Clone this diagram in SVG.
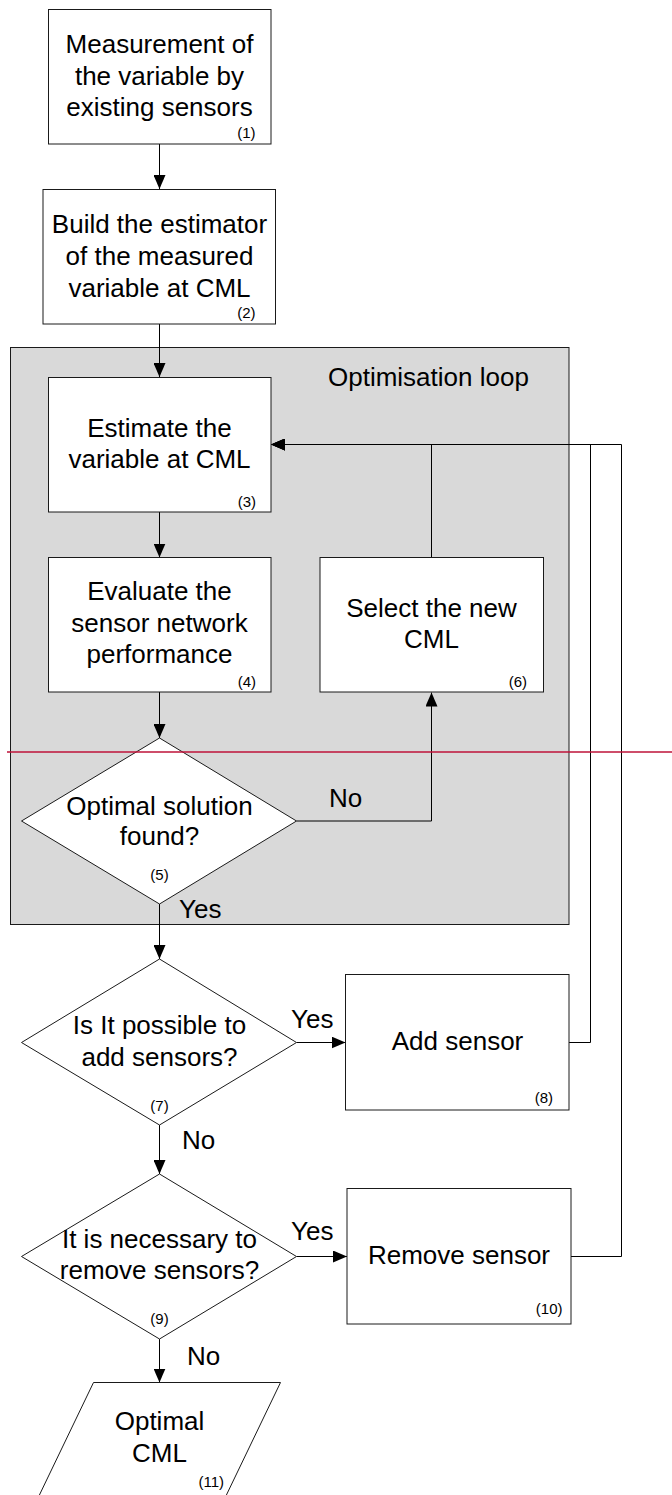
<svg xmlns="http://www.w3.org/2000/svg" width="672" height="1495" viewBox="0 0 672 1495">
  <style>
    .box { fill: #ffffff; stroke: #1a1a1a; stroke-width: 1; }
    .loop { fill: #d9d9d9; stroke: #1a1a1a; stroke-width: 1; }
    .t { font-family: "Liberation Sans", Arial, sans-serif; font-size: 26px; fill: #000; text-anchor: middle; }
    .lbl { font-family: "Liberation Sans", Arial, sans-serif; font-size: 26px; fill: #000; }
    .n { font-family: "Liberation Sans", Arial, sans-serif; font-size: 15px; fill: #000; text-anchor: end; }
    .nc { font-family: "Liberation Sans", Arial, sans-serif; font-size: 15px; fill: #000; text-anchor: middle; }
    .c { fill: none; stroke: #000; stroke-width: 1; }
  </style>
  <defs>
    <marker id="arrow" markerUnits="userSpaceOnUse" markerWidth="14" markerHeight="12" refX="14" refY="6" orient="auto">
      <path d="M0,0 L14,6 L0,12 z" fill="#000"/>
    </marker>
  </defs>

  <!-- optimisation loop background -->
  <g id="loop">
    <rect class="loop" x="10.5" y="347.5" width="558.5" height="577"/>
    <text class="lbl" x="328" y="386">Optimisation loop</text>
  </g>

  <!-- connectors -->
  <g id="connectors">
    <path class="c" d="M159.5,144 V189" marker-end="url(#arrow)"/>
    <path class="c" d="M159.5,324 V377" marker-end="url(#arrow)"/>
    <path class="c" d="M159.5,512 V557.5" marker-end="url(#arrow)"/>
    <path class="c" d="M159.5,692 V738" marker-end="url(#arrow)"/>
    <path class="c" d="M296.5,821 H431.5 V692.5" marker-end="url(#arrow)"/>
    <path class="c" d="M431.5,557.5 V444.5 H271" marker-end="url(#arrow)"/>
    <path class="c" d="M159.5,904 V959" marker-end="url(#arrow)"/>
    <path class="c" d="M296.5,1042.5 H345.5" marker-end="url(#arrow)"/>
    <path class="c" d="M569,1042.5 H590.5 V444.5 H271" marker-end="url(#arrow)"/>
    <path class="c" d="M159.5,1125 V1174" marker-end="url(#arrow)"/>
    <path class="c" d="M296.5,1256.5 H347" marker-end="url(#arrow)"/>
    <path class="c" d="M571,1256.5 H621.5 V444.5 H271" marker-end="url(#arrow)"/>
    <path class="c" d="M159.5,1339 V1382.5" marker-end="url(#arrow)"/>
    <text class="lbl" x="329" y="807">No</text>
    <text class="lbl" x="179" y="918">Yes</text>
    <text class="lbl" x="291" y="1028">Yes</text>
    <text class="lbl" x="182" y="1149">No</text>
    <text class="lbl" x="291" y="1240">Yes</text>
    <text class="lbl" x="187" y="1365">No</text>
  </g>

  <!-- (1) measurement -->
  <g id="n1">
    <rect class="box" x="48.5" y="9.5" width="222.5" height="134.5"/>
    <text class="t" x="159.5" y="53">Measurement of</text>
    <text class="t" x="159.5" y="84.5">the variable by</text>
    <text class="t" x="159.5" y="116">existing sensors</text>
    <text class="n" x="255.5" y="137.5">(1)</text>
  </g>

  <!-- (2) estimator -->
  <g id="n2">
    <rect class="box" x="43" y="189.5" width="232.5" height="134.5"/>
    <text class="t" x="159.5" y="233">Build the estimator</text>
    <text class="t" x="159.5" y="265">of the measured</text>
    <text class="t" x="159.5" y="296.5">variable at CML</text>
    <text class="n" x="255.5" y="317.5">(2)</text>
  </g>

  <!-- (3) estimate -->
  <g id="n3">
    <rect class="box" x="48.5" y="377.5" width="222.5" height="134.5"/>
    <text class="t" x="159.5" y="436.5">Estimate the</text>
    <text class="t" x="159.5" y="468">variable at CML</text>
    <text class="n" x="256" y="506.5">(3)</text>
  </g>

  <!-- (4) evaluate -->
  <g id="n4">
    <rect class="box" x="48.5" y="557.5" width="222.5" height="134.5"/>
    <text class="t" x="159.5" y="600">Evaluate the</text>
    <text class="t" x="159.5" y="632">sensor network</text>
    <text class="t" x="159.5" y="663">performance</text>
    <text class="n" x="256" y="686.5">(4)</text>
  </g>

  <!-- (5) decision -->
  <g id="n5">
    <polygon class="box" points="159.5,738 296.5,821 159.5,904 21.5,821"/>
    <text class="t" x="159.5" y="815">Optimal solution</text>
    <text class="t" x="159.5" y="845">found?</text>
    <text class="nc" x="159.5" y="880">(5)</text>
  </g>

  <!-- (6) select -->
  <g id="n6">
    <rect class="box" x="320" y="557.5" width="223.5" height="134.5"/>
    <text class="t" x="431.5" y="616.5">Select the new</text>
    <text class="t" x="431.5" y="648">CML</text>
    <text class="n" x="527" y="686.5">(6)</text>
  </g>

  <!-- (7) decision -->
  <g id="n7">
    <polygon class="box" points="159.5,959 296.5,1042.5 159.5,1125 21.5,1042.5"/>
    <text class="t" x="159.5" y="1034">Is It possible to</text>
    <text class="t" x="159.5" y="1065.5">add sensors?</text>
    <text class="nc" x="159.5" y="1111">(7)</text>
  </g>

  <!-- (8) add -->
  <g id="n8">
    <rect class="box" x="345.5" y="974.5" width="223.5" height="135.5"/>
    <text class="t" x="457.5" y="1050">Add sensor</text>
    <text class="n" x="553" y="1102.5">(8)</text>
  </g>

  <!-- (9) decision -->
  <g id="n9">
    <polygon class="box" points="159.5,1174 296.5,1256.5 159.5,1339 21.5,1256.5"/>
    <text class="t" x="159.5" y="1248">It is necessary to</text>
    <text class="t" x="159.5" y="1279">remove sensors?</text>
    <text class="nc" x="159.5" y="1324">(9)</text>
  </g>

  <!-- (10) remove -->
  <g id="n10">
    <rect class="box" x="347" y="1188.5" width="224" height="135.5"/>
    <text class="t" x="459" y="1264">Remove sensor</text>
    <text class="n" x="562.5" y="1314">(10)</text>
  </g>

  <!-- (11) output -->
  <g id="n11">
    <polygon class="box" points="93.5,1382.5 280.5,1382.5 224,1500 37,1500"/>
    <text class="t" x="159.5" y="1430">Optimal</text>
    <text class="t" x="159.5" y="1461.5">CML</text>
    <text class="n" x="224" y="1486.5">(11)</text>
  </g>

  <!-- horizontal red marker line -->
  <line x1="7" y1="752" x2="672" y2="752" stroke="#be1238" stroke-width="1.5"/>
</svg>
